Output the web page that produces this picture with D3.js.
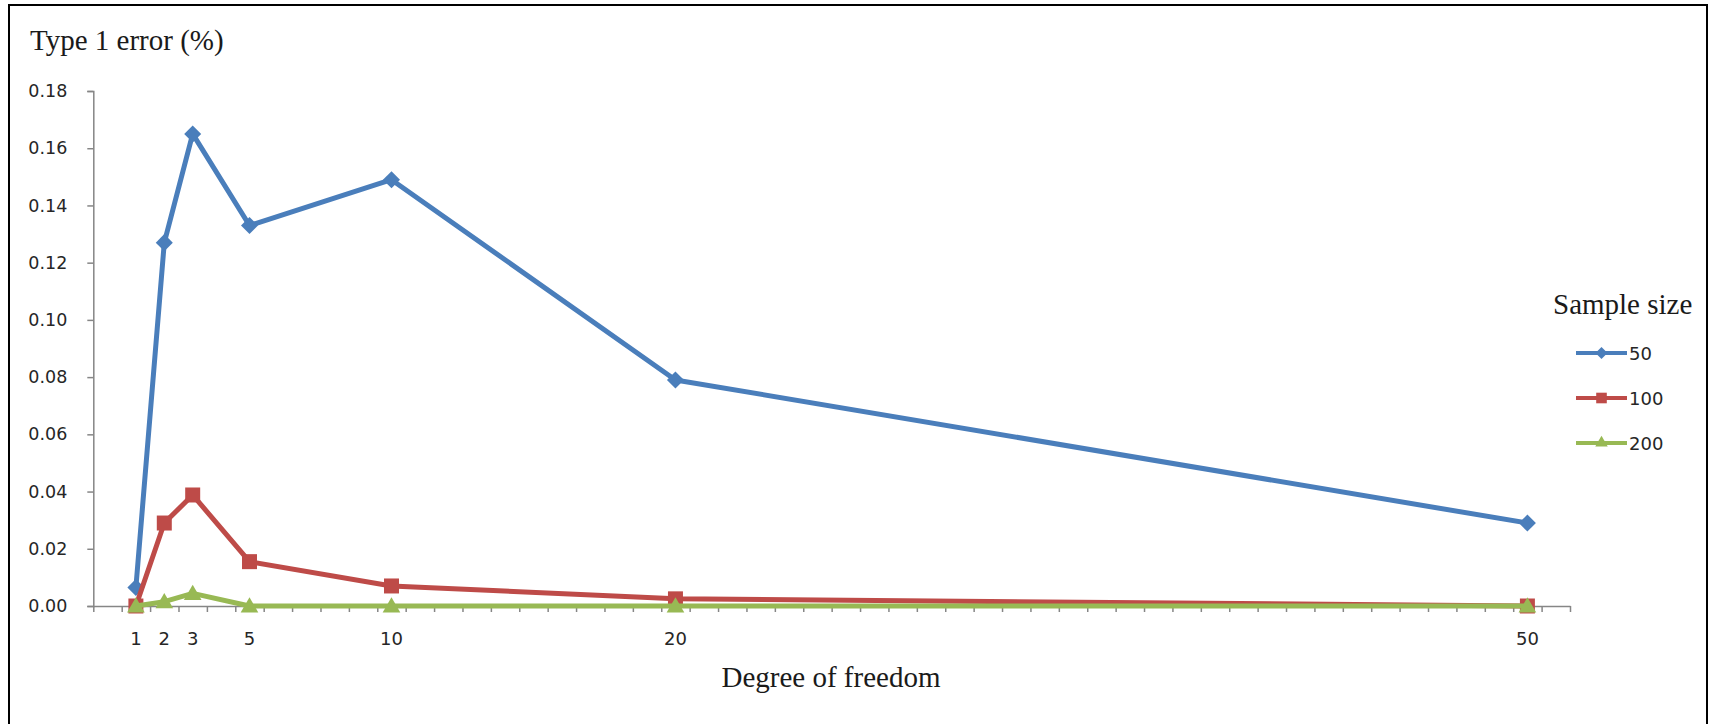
<!DOCTYPE html>
<html>
<head>
<meta charset="utf-8">
<script src="https://cdn.jsdelivr.net/npm/d3@7"></script>
<style>
  html, body { margin: 0; padding: 0; background: #fff; }
  svg { display: block; }
</style>
</head>
<body>
<svg id="chart" width="1714" height="724"></svg>
<script>
// ---- data ----
const categories = [1, 2, 3, 5, 10, 20, 50];
const seriesNames = ["50", "100", "200"];
const values50  = [0.0065, 0.127, 0.165, 0.133, 0.149, 0.079, 0.029];
const values100 = [0.0, 0.029, 0.0388, 0.0155, 0.007, 0.0025, 0.0];
const values200 = [0.0, 0.0015, 0.0044, 0.0, 0.0, 0.0, 0.0];
const yTicks = [0, 0.02, 0.04, 0.06, 0.08, 0.10, 0.12, 0.14, 0.16, 0.18];
const xLabels = ["1", "2", "3", "5", "10", "20", "50"];
const yTitle = "Type 1 error (%)";
const xTitle = "Degree of freedom";
const legendTitle = "Sample size";

const colors = ["#4A7EBB", "#BE4B48", "#98B954"];
const markers = ["diamond", "square", "triangle"];
const allValues = [values50, values100, values200];

const svg = d3.select("#chart");

// frame
svg.append("rect")
  .attr("x", 9).attr("y", 5)
  .attr("width", 1698).attr("height", 740)
  .attr("fill", "#fff").attr("stroke", "#000").attr("stroke-width", 2);

const x = d3.scaleLinear().domain([-0.5, 51.5]).range([93.3, 1570]);
const y = d3.scaleLinear().domain([0, 0.18]).range([606, 91]);

const axisColor = "#868686";
const labelFont = "'DejaVu Sans', sans-serif";
const serifFont = "'Liberation Serif', 'Times New Roman', serif";

// y axis
const yAxis = svg.append("g")
  .attr("transform", `translate(${x(-0.5)},0)`)
  .call(d3.axisLeft(y).tickValues(yTicks).tickFormat(d3.format(".2f")).tickSize(6).tickPadding(20));
yAxis.select(".domain").attr("stroke", axisColor).attr("stroke-width", 1.5);
yAxis.selectAll(".tick line").attr("stroke", axisColor).attr("stroke-width", 1.5);
yAxis.selectAll(".tick text")
  .attr("fill", "#262626")
  .style("font-family", labelFont)
  .style("font-size", "17.5px");

// x axis: tick marks at category boundaries
const bounds = d3.range(-0.5, 52, 1);
const xAxis = svg.append("g")
  .attr("transform", `translate(0,${y(0)})`)
  .call(d3.axisBottom(x).tickValues(bounds).tickFormat("").tickSize(6).tickSizeOuter(0));
xAxis.select(".domain").attr("stroke", axisColor).attr("stroke-width", 1.5);
xAxis.selectAll(".tick line").attr("stroke", axisColor).attr("stroke-width", 1.5);

// x category labels
svg.append("g").selectAll("text")
  .data(categories)
  .join("text")
  .attr("x", d => x(d))
  .attr("y", 645)
  .attr("text-anchor", "middle")
  .attr("fill", "#262626")
  .style("font-family", labelFont)
  .style("font-size", "18px")
  .text((d, i) => xLabels[i]);

// titles
svg.append("text")
  .attr("x", 30).attr("y", 50)
  .attr("fill", "#1a1a1a")
  .style("font-family", serifFont)
  .style("font-size", "29px")
  .text(yTitle);

svg.append("text")
  .attr("x", 831).attr("y", 687)
  .attr("text-anchor", "middle")
  .attr("fill", "#1a1a1a")
  .style("font-family", serifFont)
  .style("font-size", "29px")
  .text(xTitle);

// marker generator
function markerPath(kind, scale) {
  if (kind === "diamond") return d3.symbol(d3.symbolSquare, 145 * scale)();
  if (kind === "square") return d3.symbol(d3.symbolSquare, 225 * scale)();
  return d3.symbol(d3.symbolTriangle, 135 * scale)();
}

const line = d3.line()
  .x((d, i) => x(categories[i]))
  .y(d => y(d));

allValues.forEach((vals, s) => {
  const g = svg.append("g");
  g.append("path")
    .datum(vals)
    .attr("d", line)
    .attr("fill", "none")
    .attr("stroke", colors[s])
    .attr("stroke-width", 5)
    .attr("stroke-linejoin", "round");
  g.selectAll("path.mk")
    .data(vals)
    .join("path")
    .attr("class", "mk")
    .attr("d", markerPath(markers[s], 1))
    .attr("transform", (d, i) => `translate(${x(categories[i])},${y(d) + (markers[s] === "triangle" ? 1.5 : 0)})` + (markers[s] === "diamond" ? " rotate(45)" : ""))
    .attr("fill", colors[s]);
});

// legend
svg.append("text")
  .attr("x", 1553).attr("y", 314)
  .attr("fill", "#1a1a1a")
  .style("font-family", serifFont)
  .style("font-size", "29px")
  .text(legendTitle);

const legendY = d3.scalePoint().domain(seriesNames).range([353, 443]);
const lg = svg.append("g");
seriesNames.forEach((name, s) => {
  const ly = legendY(name);
  lg.append("line")
    .attr("x1", 1576).attr("x2", 1627)
    .attr("y1", ly).attr("y2", ly)
    .attr("stroke", colors[s]).attr("stroke-width", 4);
  lg.append("path")
    .attr("d", markerPath(markers[s], 0.5))
    .attr("transform", `translate(1601.5,${ly})` + (markers[s] === "diamond" ? " rotate(45)" : ""))
    .attr("fill", colors[s]);
  lg.append("text")
    .attr("x", 1629).attr("y", ly + 6.5)
    .attr("fill", "#262626")
    .style("font-family", labelFont)
    .style("font-size", "18px")
    .text(name);
});
</script>
</body>
</html>
